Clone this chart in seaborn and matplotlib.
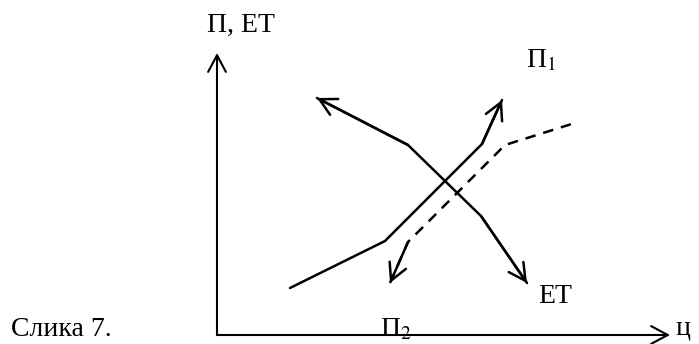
import matplotlib
matplotlib.use("Agg")
import matplotlib.pyplot as plt
import seaborn as sns
import pandas as pd

# --- data (origin = where the two axes meet) ---
et_x = [100, 191, 264, 310]
et_y = [237, 190, 119, 52]
p1_x = [73, 168, 265, 285]
p1_y = [47, 94, 191, 235]
p2_x = [173, 191, 288, 361]
p2_y = [52, 93, 190, 213]
axis_len_x = 453
axis_len_y = 282

sns.set_theme(style="white")
plt.rcParams['font.family'] = ['Liberation Serif', 'DejaVu Serif']
plt.rcParams['mathtext.fontset'] = 'stix'
plt.rcParams['text.color'] = 'black'

df = pd.concat([
    pd.DataFrame({'x': et_x, 'y': et_y, 'curve': 'ET'}),
    pd.DataFrame({'x': p1_x, 'y': p1_y, 'curve': 'P1'}),
    pd.DataFrame({'x': p2_x, 'y': p2_y, 'curve': 'P2'}),
])

fig = plt.figure(figsize=(6.99, 3.44), dpi=100)
ax = fig.add_axes([0, 0, 1, 1])

sns.lineplot(data=df, x='x', y='y', hue='curve', style='curve',
             palette={'ET': 'black', 'P1': 'black', 'P2': 'black'},
             dashes={'ET': '', 'P1': '', 'P2': (4.2, 3.2)},
             sort=False, estimator=None, linewidth=1.8, legend=False, ax=ax)

ax.set_xlim(-217, 482)
ax.set_ylim(-9, 335)
ax.axis('off')

head = dict(arrowstyle='->,head_length=0.6,head_width=0.32', mutation_scale=20,
            color='black', lw=1.8, shrinkA=0, shrinkB=0)

def arrow_end(xs, ys, i, j):
    # open arrowhead at point j, pointing away from point i
    ax.annotate('', xy=(xs[j], ys[j]), xytext=(xs[i], ys[i]), arrowprops=head)

arrow_end(et_x, et_y, 1, 0)
arrow_end(et_x, et_y, 2, 3)
arrow_end(p1_x, p1_y, 2, 3)
arrow_end(p2_x, p2_y, 1, 0)

# coordinate axes
axis_head = dict(head, lw=1.5)
ax.annotate('', xy=(0, axis_len_y), xytext=(0, 0), arrowprops=axis_head)
ax.annotate('', xy=(axis_len_x, 0), xytext=(0, 0), arrowprops=axis_head)

fs = 20
ax.text(-10, 303, 'П, ЕТ', fontsize=fs, va='baseline')
ax.text(309, 268, 'П$_1$', fontsize=fs, va='baseline')
ax.text(321, 32, 'ЕТ', fontsize=fs, va='baseline')
ax.text(163, -1, 'П$_2$', fontsize=fs, va='baseline')
ax.text(458, 0, 'ц', fontsize=fs, va='baseline')
ax.text(-206, -1, 'Слика 7.', fontsize=fs, va='baseline')

plt.savefig("out.png", dpi=100)
